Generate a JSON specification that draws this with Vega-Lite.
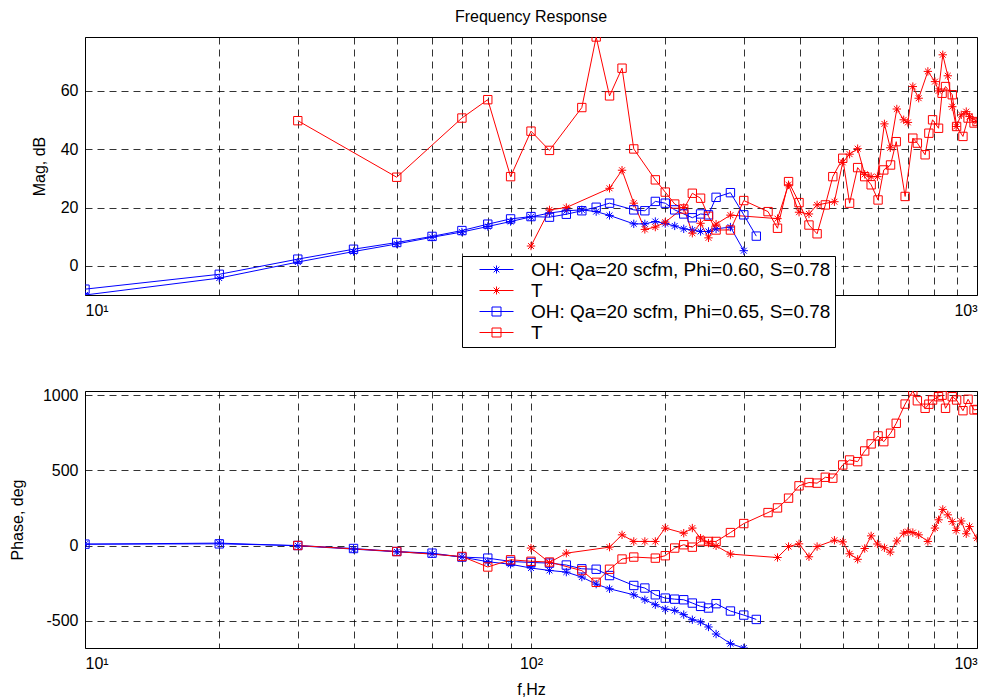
{
  "$schema": "https://vega.github.io/schema/vega-lite/v6.json",
  "background": "white",
  "padding": {"left": 8, "top": 8, "right": 14, "bottom": 0},
  "config": {
    "font": "Liberation Sans",
    "view": {"stroke": "black", "strokeWidth": 1},
    "axis": {
      "domain": false,
      "ticks": false,
      "grid": true,
      "gridColor": "black",
      "gridOpacity": 0.8,
      "gridDash": [7, 5],
      "gridWidth": 1,
      "labelFontSize": 16,
      "labelColor": "black",
      "labelFont": "Liberation Sans",
      "titleFont": "Liberation Sans",
      "titleFontSize": 16,
      "titleFontWeight": "normal",
      "titleColor": "black",
      "labelPadding": 7
    },
    "title": {"font": "Liberation Sans", "fontSize": 16, "fontWeight": "normal", "color": "black"}
  },
  "datasets": {
    "fr": [
      {"s": "a", "f": 10, "m": -10, "p": 9}, {"s": "a", "f": 20, "m": -4.2, "p": 16}, {"s": "a", "f": 30, "m": 1.3, "p": -2},
      {"s": "a", "f": 40, "m": 4.9, "p": -24}, {"s": "a", "f": 50, "m": 7.5, "p": -42}, {"s": "a", "f": 60, "m": 9.8, "p": -55},
      {"s": "a", "f": 70, "m": 11.6, "p": -77}, {"s": "a", "f": 80, "m": 13.5, "p": -108}, {"s": "a", "f": 90, "m": 15.2, "p": -125},
      {"s": "a", "f": 100, "m": 16.8, "p": -150}, {"s": "a", "f": 110, "m": 18.1, "p": -166}, {"s": "a", "f": 120, "m": 18.9, "p": -177},
      {"s": "a", "f": 130, "m": 19.2, "p": -210}, {"s": "a", "f": 140, "m": 18.6, "p": -257}, {"s": "a", "f": 150, "m": 17.3, "p": -288},
      {"s": "a", "f": 170, "m": 14.4, "p": -328}, {"s": "a", "f": 180, "m": 14.4, "p": -361}, {"s": "a", "f": 190, "m": 15.2, "p": -394},
      {"s": "a", "f": 200, "m": 14.5, "p": -423}, {"s": "a", "f": 210, "m": 13.7, "p": -432}, {"s": "a", "f": 220, "m": 12.7, "p": -460},
      {"s": "a", "f": 230, "m": 12.3, "p": -494}, {"s": "a", "f": 240, "m": 11.8, "p": -509}, {"s": "a", "f": 250, "m": 11.8, "p": -542},
      {"s": "a", "f": 260, "m": 12.7, "p": -589}, {"s": "a", "f": 280, "m": 13.3, "p": -653}, {"s": "a", "f": 300, "m": 5.2, "p": -682},

      {"s": "b", "f": 100, "m": 6.8, "p": -17}, {"s": "b", "f": 110, "m": 19.2, "p": -113}, {"s": "b", "f": 120, "m": 20.0, "p": -51},
      {"s": "b", "f": 150, "m": 26.6, "p": -11}, {"s": "b", "f": 160, "m": 32.8, "p": 71}, {"s": "b", "f": 170, "m": 21.5, "p": 27},
      {"s": "b", "f": 180, "m": 12.5, "p": 27}, {"s": "b", "f": 190, "m": 13.3, "p": 27}, {"s": "b", "f": 200, "m": 15.0, "p": 116},
      {"s": "b", "f": 220, "m": 20.0, "p": 82}, {"s": "b", "f": 230, "m": 11.2, "p": 116}, {"s": "b", "f": 240, "m": 14.6, "p": 49},
      {"s": "b", "f": 250, "m": 9.6, "p": 16}, {"s": "b", "f": 260, "m": 14.3, "p": -2}, {"s": "b", "f": 280, "m": 17.4, "p": -57},
      {"s": "b", "f": 357, "m": 16.2, "p": -80}, {"s": "b", "f": 378, "m": 27.8, "p": -7}, {"s": "b", "f": 399, "m": 18.4, "p": 11},
      {"s": "b", "f": 420, "m": 17.8, "p": -75}, {"s": "b", "f": 438, "m": 20.9, "p": -7}, {"s": "b", "f": 479, "m": 22.0, "p": 35},
      {"s": "b", "f": 500, "m": 35.5, "p": 24}, {"s": "b", "f": 518, "m": 38.3, "p": -55}, {"s": "b", "f": 540, "m": 40.2, "p": -92},
      {"s": "b", "f": 560, "m": 31.4, "p": -20}, {"s": "b", "f": 579, "m": 30.6, "p": 64}, {"s": "b", "f": 598, "m": 30.6, "p": 10},
      {"s": "b", "f": 620, "m": 48.7, "p": -15}, {"s": "b", "f": 639, "m": 40.5, "p": -44}, {"s": "b", "f": 661, "m": 53.8, "p": 30},
      {"s": "b", "f": 685, "m": 50.1, "p": 82}, {"s": "b", "f": 700, "m": 49.2, "p": 93}, {"s": "b", "f": 718, "m": 61.5, "p": 86},
      {"s": "b", "f": 740, "m": 57.5, "p": 71}, {"s": "b", "f": 776, "m": 66.7, "p": 27}, {"s": "b", "f": 805, "m": 63.2, "p": 116},
      {"s": "b", "f": 820, "m": 60.0, "p": 171}, {"s": "b", "f": 838, "m": 72.4, "p": 240}, {"s": "b", "f": 860, "m": 65.2, "p": 204},
      {"s": "b", "f": 880, "m": 54.6, "p": 159}, {"s": "b", "f": 898, "m": 47.8, "p": 100}, {"s": "b", "f": 922, "m": 51.8, "p": 163},
      {"s": "b", "f": 946, "m": 52.9, "p": 78}, {"s": "b", "f": 962, "m": 51.2, "p": 126}, {"s": "b", "f": 1000, "m": 49.5, "p": 49},

      {"s": "c", "f": 10, "m": -8.0, "p": 9}, {"s": "c", "f": 20, "m": -2.9, "p": 11}, {"s": "c", "f": 30, "m": 2.3, "p": 0},
      {"s": "c", "f": 40, "m": 5.7, "p": -20}, {"s": "c", "f": 50, "m": 8.0, "p": -40}, {"s": "c", "f": 60, "m": 10.1, "p": -51},
      {"s": "c", "f": 70, "m": 12.1, "p": -77}, {"s": "c", "f": 80, "m": 14.3, "p": -84}, {"s": "c", "f": 90, "m": 16.1, "p": -106},
      {"s": "c", "f": 100, "m": 16.9, "p": -113}, {"s": "c", "f": 110, "m": 16.7, "p": -117}, {"s": "c", "f": 120, "m": 17.7, "p": -130},
      {"s": "c", "f": 130, "m": 18.9, "p": -155}, {"s": "c", "f": 140, "m": 20.1, "p": -158}, {"s": "c", "f": 150, "m": 21.5, "p": -200},
      {"s": "c", "f": 170, "m": 19.2, "p": -266}, {"s": "c", "f": 180, "m": 18.9, "p": -283}, {"s": "c", "f": 190, "m": 22.1, "p": -328},
      {"s": "c", "f": 200, "m": 21.5, "p": -350}, {"s": "c", "f": 210, "m": 19.2, "p": -357}, {"s": "c", "f": 220, "m": 17.8, "p": -361},
      {"s": "c", "f": 230, "m": 16.5, "p": -383}, {"s": "c", "f": 240, "m": 17.8, "p": -405}, {"s": "c", "f": 250, "m": 17.5, "p": -416},
      {"s": "c", "f": 260, "m": 23.5, "p": -387}, {"s": "c", "f": 280, "m": 25.1, "p": -436}, {"s": "c", "f": 300, "m": 17.5, "p": -463},
      {"s": "c", "f": 320, "m": 10.2, "p": -492},

      {"s": "d", "f": 30, "m": 49.8, "p": 0}, {"s": "d", "f": 50, "m": 30.4, "p": -40}, {"s": "d", "f": 70, "m": 50.7, "p": -73},
      {"s": "d", "f": 80, "m": 57.0, "p": -143}, {"s": "d", "f": 90, "m": 30.6, "p": -95}, {"s": "d", "f": 100, "m": 46.2, "p": -105},
      {"s": "d", "f": 110, "m": 39.6, "p": -110}, {"s": "d", "f": 130, "m": 54.3, "p": -167}, {"s": "d", "f": 140, "m": 78.5, "p": -245},
      {"s": "d", "f": 150, "m": 58.3, "p": -158}, {"s": "d", "f": 160, "m": 67.8, "p": -90}, {"s": "d", "f": 170, "m": 40.1, "p": -77},
      {"s": "d", "f": 190, "m": 29.5, "p": -84}, {"s": "d", "f": 200, "m": 25.3, "p": -68}, {"s": "d", "f": 210, "m": 21.2, "p": -17},
      {"s": "d", "f": 220, "m": 19.5, "p": 5}, {"s": "d", "f": 230, "m": 24.9, "p": -11}, {"s": "d", "f": 240, "m": 23.2, "p": 30},
      {"s": "d", "f": 250, "m": 17.0, "p": 27}, {"s": "d", "f": 260, "m": 12.3, "p": 27}, {"s": "d", "f": 280, "m": 12.3, "p": 86},
      {"s": "d", "f": 300, "m": 22.4, "p": 146}, {"s": "d", "f": 340, "m": 18.6, "p": 219}, {"s": "d", "f": 357, "m": 12.9, "p": 250},
      {"s": "d", "f": 378, "m": 28.9, "p": 315}, {"s": "d", "f": 399, "m": 21.7, "p": 397}, {"s": "d", "f": 420, "m": 14.0, "p": 419},
      {"s": "d", "f": 438, "m": 11.0, "p": 415}, {"s": "d", "f": 457, "m": 20.9, "p": 454}, {"s": "d", "f": 475, "m": 30.6, "p": 448},
      {"s": "d", "f": 500, "m": 36.9, "p": 536}, {"s": "d", "f": 518, "m": 21.5, "p": 569}, {"s": "d", "f": 540, "m": 33.7, "p": 558},
      {"s": "d", "f": 560, "m": 30.6, "p": 629}, {"s": "d", "f": 579, "m": 27.8, "p": 676}, {"s": "d", "f": 600, "m": 22.6, "p": 729},
      {"s": "d", "f": 618, "m": 32.9, "p": 691}, {"s": "d", "f": 640, "m": 34.6, "p": 747}, {"s": "d", "f": 659, "m": 42.6, "p": 813},
      {"s": "d", "f": 690, "m": 23.8, "p": 941}, {"s": "d", "f": 718, "m": 43.8, "p": 1028}, {"s": "d", "f": 735, "m": 42.1, "p": 963},
      {"s": "d", "f": 765, "m": 38.1, "p": 913}, {"s": "d", "f": 780, "m": 45.5, "p": 940}, {"s": "d", "f": 795, "m": 50.1, "p": 968},
      {"s": "d", "f": 820, "m": 47.2, "p": 990}, {"s": "d", "f": 835, "m": 59.2, "p": 1000}, {"s": "d", "f": 850, "m": 61.5, "p": 913},
      {"s": "d", "f": 880, "m": 58.7, "p": 990}, {"s": "d", "f": 900, "m": 47.8, "p": 968}, {"s": "d", "f": 930, "m": 44.4, "p": 897},
      {"s": "d", "f": 955, "m": 50.7, "p": 973}, {"s": "d", "f": 985, "m": 49.0, "p": 902}, {"s": "d", "f": 1000, "m": 49.5, "p": 905}
    ]
  },
  "bounds": "flush",
  "spacing": 96,
  "vconcat": [
    {
      "title": {"text": "Frequency Response", "offset": 12},
      "width": 892,
      "height": 258,
      "data": {"name": "fr"},
      "encoding": {
        "x": {
          "field": "f", "type": "quantitative",
          "scale": {"type": "log", "domain": [10, 1000], "nice": false},
          "axis": {
            "title": null,
            "values": [10, 20, 30, 40, 50, 60, 70, 80, 90, 100, 200, 300, 400, 500, 600, 700, 800, 900, 1000],
            "labelExpr": "datum.value == 10 ? '10¹' : datum.value == 1000 ? '10³' : ''"
          }
        },
        "y": {
          "field": "m", "type": "quantitative",
          "scale": {"domain": [-10, 78.5], "nice": false, "zero": false},
          "axis": {"title": "Mag, dB", "values": [0, 20, 40, 60], "labelExpr": "'' + datum.value", "titleX": -46, "titleBaseline": "middle"}
        }
      },
      "layer": [
        {
          "mark": {"type": "line", "strokeWidth": 1, "clip": true},
          "encoding": {
            "detail": {"field": "s"},
            "color": {"field": "s", "scale": {"domain": ["a", "b", "c", "d"], "range": ["#0000ff", "#ff0000", "#0000ff", "#ff0000"]}, "legend": null}
          }
        },
        {
          "mark": {"type": "point", "filled": false, "strokeWidth": 1, "opacity": 1, "clip": true},
          "encoding": {
            "color": {"field": "s", "scale": {"domain": ["a", "b", "c", "d"], "range": ["#0000ff", "#ff0000", "#0000ff", "#ff0000"]}, "legend": null},
            "shape": {"field": "s", "scale": {"domain": ["a", "b", "c", "d"], "range": ["M-1,0L1,0M0,-1L0,1M-0.7,-0.7L0.7,0.7M-0.7,0.7L0.7,-0.7", "M-1,0L1,0M0,-1L0,1M-0.7,-0.7L0.7,0.7M-0.7,0.7L0.7,-0.7", "square", "square"]}, "legend": null},
            "size": {"field": "s", "scale": {"domain": ["a", "b", "c", "d"], "range": [70, 70, 85, 85]}, "legend": null}
          }
        },
        {
          "transform": [{"filter": "datum.f < 0"}],
          "mark": {"type": "point", "filled": false, "strokeWidth": 1, "opacity": 1},
          "encoding": {
            "color": {
              "field": "s",
              "scale": {"domain": ["a", "b", "c", "d"], "range": ["#0000ff", "#ff0000", "#0000ff", "#ff0000"]},
              "legend": {
                "title": null,
                "orient": "none",
                "legendX": 377,
                "legendY": 219,
                "direction": "vertical",
                "strokeColor": "black",
                "fillColor": "white",
                "padding": 4,
                "labelFontSize": 19,
                "labelFont": "Liberation Sans",
                "labelColor": "black",
                "labelLimit": 0,
                "symbolSize": 100,
                "symbolStrokeWidth": 1,
                "symbolOffset": 21,
                "labelOffset": 25,
                "rowPadding": 1,
                "labelExpr": "datum.label == 'a' ? 'OH: Qa=20 scfm, Phi=0.60, S=0.78' : datum.label == 'c' ? 'OH: Qa=20 scfm, Phi=0.65, S=0.78' : 'T'"
              }
            },
            "shape": {
              "field": "s",
              "scale": {"domain": ["a", "b", "c", "d"], "range": [
                "M-3.4,0L3.4,0M-0.8,0L0.8,0M0,-0.8L0,0.8M-0.57,-0.57L0.57,0.57M-0.57,0.57L0.57,-0.57",
                "M-3.4,0L3.4,0M-0.8,0L0.8,0M0,-0.8L0,0.8M-0.57,-0.57L0.57,0.57M-0.57,0.57L0.57,-0.57",
                "M-3.4,0L3.4,0M-0.9,-0.9L0.9,-0.9L0.9,0.9L-0.9,0.9Z",
                "M-3.4,0L3.4,0M-0.9,-0.9L0.9,-0.9L0.9,0.9L-0.9,0.9Z"
              ]}
            }
          }
        }
      ],
      "resolve": {"scale": {"shape": "independent", "color": "independent", "size": "independent"}}
    },
    {
      "width": 892,
      "height": 257,
      "data": {"name": "fr"},
      "encoding": {
        "x": {
          "field": "f", "type": "quantitative",
          "scale": {"type": "log", "domain": [10, 1000], "nice": false},
          "axis": {
            "title": "f,Hz",
            "titleY": 41,
            "titleBaseline": "middle",
            "values": [10, 20, 30, 40, 50, 60, 70, 80, 90, 100, 200, 300, 400, 500, 600, 700, 800, 900, 1000],
            "labelExpr": "datum.value == 10 ? '10¹' : datum.value == 100 ? '10²' : datum.value == 1000 ? '10³' : ''"
          }
        },
        "y": {
          "field": "p", "type": "quantitative",
          "scale": {"domain": [-682, 1028], "nice": false, "zero": false},
          "axis": {"title": "Phase, deg", "values": [-500, 0, 500, 1000], "labelExpr": "'' + datum.value", "titleX": -68, "titleBaseline": "middle"}
        }
      },
      "layer": [
        {
          "mark": {"type": "line", "strokeWidth": 1, "clip": true},
          "encoding": {
            "detail": {"field": "s"},
            "color": {"field": "s", "scale": {"domain": ["a", "b", "c", "d"], "range": ["#0000ff", "#ff0000", "#0000ff", "#ff0000"]}, "legend": null}
          }
        },
        {
          "mark": {"type": "point", "filled": false, "strokeWidth": 1, "opacity": 1, "clip": true},
          "encoding": {
            "color": {"field": "s", "scale": {"domain": ["a", "b", "c", "d"], "range": ["#0000ff", "#ff0000", "#0000ff", "#ff0000"]}, "legend": null},
            "shape": {"field": "s", "scale": {"domain": ["a", "b", "c", "d"], "range": ["M-1,0L1,0M0,-1L0,1M-0.7,-0.7L0.7,0.7M-0.7,0.7L0.7,-0.7", "M-1,0L1,0M0,-1L0,1M-0.7,-0.7L0.7,0.7M-0.7,0.7L0.7,-0.7", "square", "square"]}, "legend": null},
            "size": {"field": "s", "scale": {"domain": ["a", "b", "c", "d"], "range": [70, 70, 85, 85]}, "legend": null}
          }
        }
      ]
    }
  ]
}
